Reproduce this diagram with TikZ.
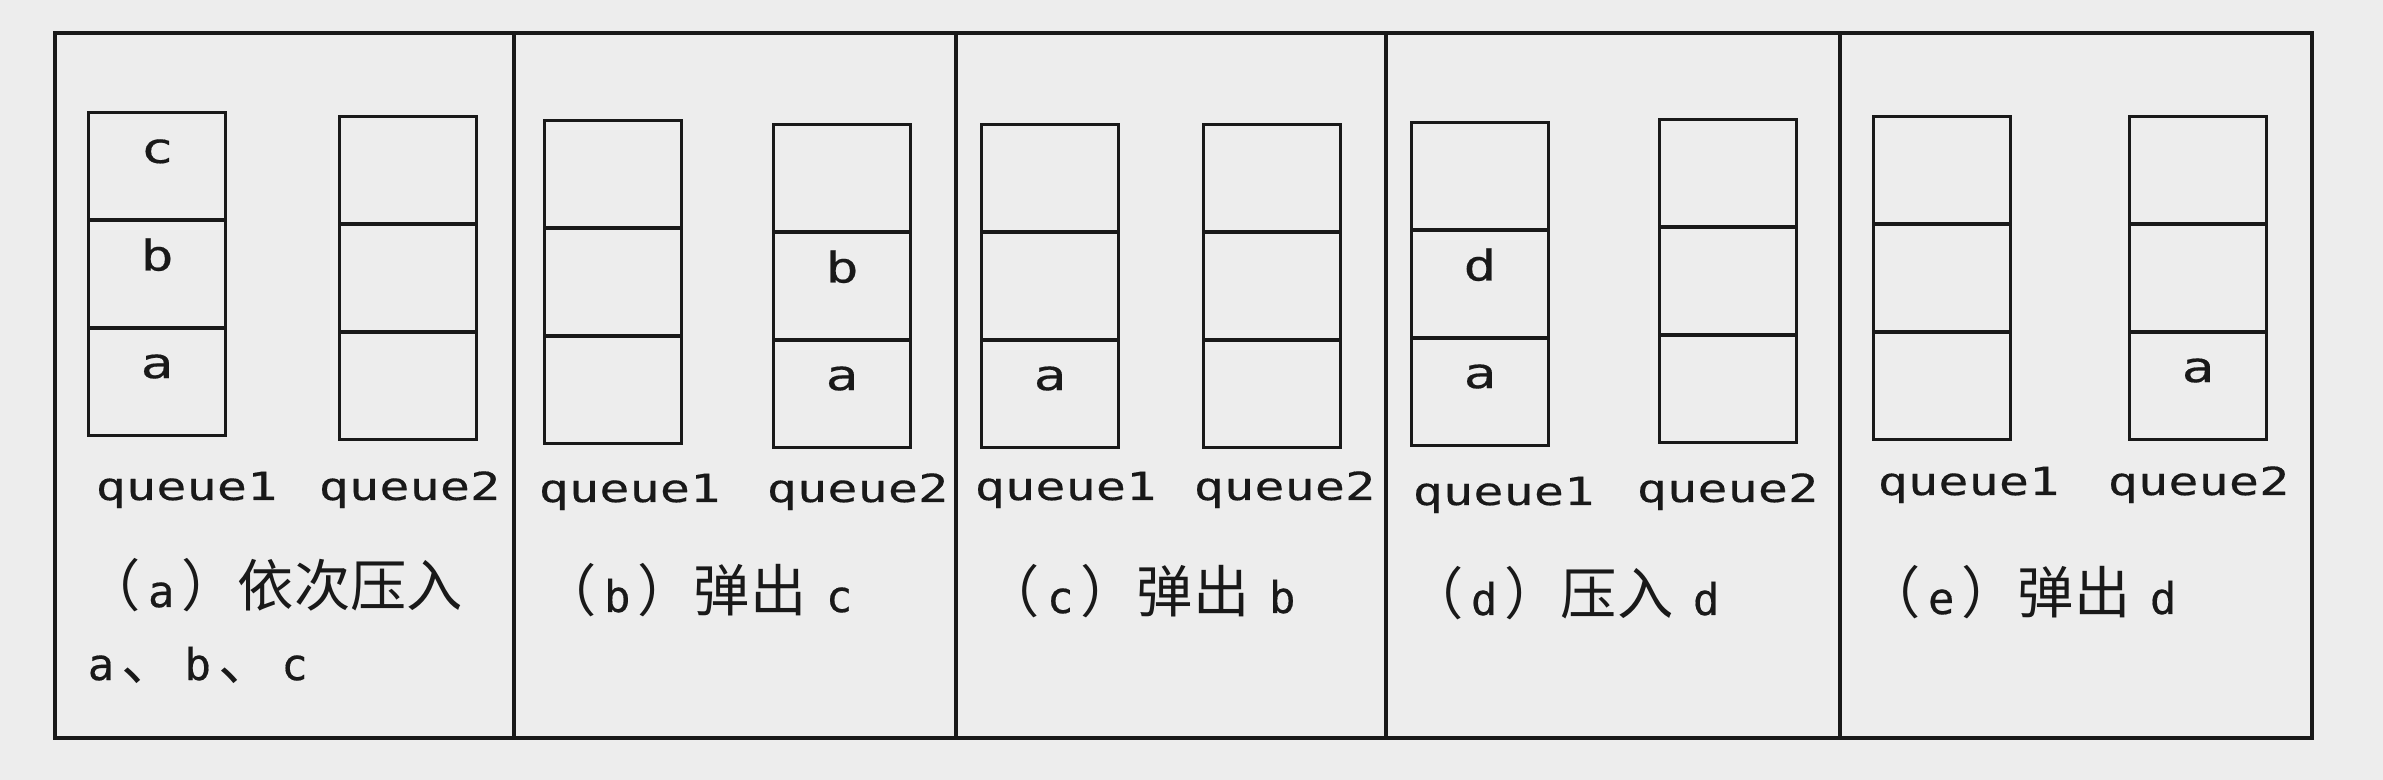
\documentclass[tikz,border=0pt]{standalone}
\usepackage{fontspec}
\setmainfont{DejaVu Sans}
\newfontfamily\cjk{Noto Sans CJK SC}
\newfontfamily\qfont[FakeStretch=1.3,FakeBold=0.4]{DejaVu Sans Mono}
\newfontfamily\capfont[FakeBold=0.4]{DejaVu Sans Mono}
\newcommand\capltr[1]{\hspace{2pt}{\capfont\fontsize{12.5}{15}\selectfont #1}\hspace{2pt}}
\usetikzlibrary{positioning}
\definecolor{paper}{gray}{0.93}
\definecolor{ink}{gray}{0.1}

\begin{document}
\begin{tikzpicture}[x=0.01cm, y=-0.01cm,
  cell/.style={draw=ink, line width=1pt, minimum width=13.7mm, minimum height=10.75mm, inner sep=0pt, outer sep=0pt, text=ink, font=\qfont\fontsize{12}{14}\selectfont, text height=6pt, text depth=8pt},
  qname/.style={anchor=base west, inner sep=0pt, text=ink, font=\qfont\fontsize{11}{13}\selectfont},
  captext/.style={anchor=base west, inner sep=0pt, text=ink, font=\cjk\fontsize{16}{19}\selectfont},
  panelline/.style={draw=ink, line width=1pt}
]
\fill[paper] (0,0) rectangle (2383,780);
\useasboundingbox (0,0) rectangle (2383,780);

% outer frame and panel dividers
\draw[panelline] (55,33) rectangle (2312,738);
\draw[panelline] (514,33) -- (514,738) (956,33) -- (956,738) (1386,33) -- (1386,738) (1840,33) -- (1840,738);

% (a)
\node[cell] (a1m) at (157,274) {b};
\node[cell, above=0pt of a1m] (a1t) {c};
\node[cell, below=0pt of a1m] (a1b) {a};
\node[cell] (a2m) at (408,278) {};
\node[cell, above=0pt of a2m] (a2t) {};
\node[cell, below=0pt of a2m] (a2b) {};
\node[qname] (a1n) at (95,500) {queue1};
\node[qname] (a2n) at (318,500) {queue2};
\node[captext] (capa) at (84,607) {（\capltr{a}）依次压入};
\node[captext] (capa2) at (80,680) {\capltr{a}、\capltr{b}、\capltr{c}};

% (b)
\node[cell] (b1m) at (613,282) {};
\node[cell, above=0pt of b1m] (b1t) {};
\node[cell, below=0pt of b1m] (b1b) {};
\node[cell] (b2m) at (842,286) {b};
\node[cell, above=0pt of b2m] (b2t) {};
\node[cell, below=0pt of b2m] (b2b) {a};
\node[qname] (b1n) at (538,502) {queue1};
\node[qname] (b2n) at (766,502) {queue2};
\node[captext] (capb) at (540,612) {（\capltr{b}）弹出 \capltr{c}};

% (c)
\node[cell] (c1m) at (1050,286) {};
\node[cell, above=0pt of c1m] (c1t) {};
\node[cell, below=0pt of c1m] (c1b) {a};
\node[cell] (c2m) at (1272,286) {};
\node[cell, above=0pt of c2m] (c2t) {};
\node[cell, below=0pt of c2m] (c2b) {};
\node[qname] (c1n) at (974,500) {queue1};
\node[qname] (c2n) at (1193,500) {queue2};
\node[captext] (capc) at (983,613) {（\capltr{c}）弹出 \capltr{b}};

% (d)
\node[cell] (d1m) at (1480,284) {d};
\node[cell, above=0pt of d1m] (d1t) {};
\node[cell, below=0pt of d1m] (d1b) {a};
\node[cell] (d2m) at (1728,281) {};
\node[cell, above=0pt of d2m] (d2t) {};
\node[cell, below=0pt of d2m] (d2b) {};
\node[qname] (d1n) at (1412,505) {queue1};
\node[qname] (d2n) at (1636,502) {queue2};
\node[captext] (capd) at (1407,615) {（\capltr{d}）压入 \capltr{d}};

% (e)
\node[cell] (e1m) at (1942,278) {};
\node[cell, above=0pt of e1m] (e1t) {};
\node[cell, below=0pt of e1m] (e1b) {};
\node[cell] (e2m) at (2198,278) {};
\node[cell, above=0pt of e2m] (e2t) {};
\node[cell, below=0pt of e2m] (e2b) {a};
\node[qname] (e1n) at (1877,495) {queue1};
\node[qname] (e2n) at (2107,495) {queue2};
\node[captext] (cape) at (1864,614) {（\capltr{e}）弹出 \capltr{d}};
\end{tikzpicture}
\end{document}
